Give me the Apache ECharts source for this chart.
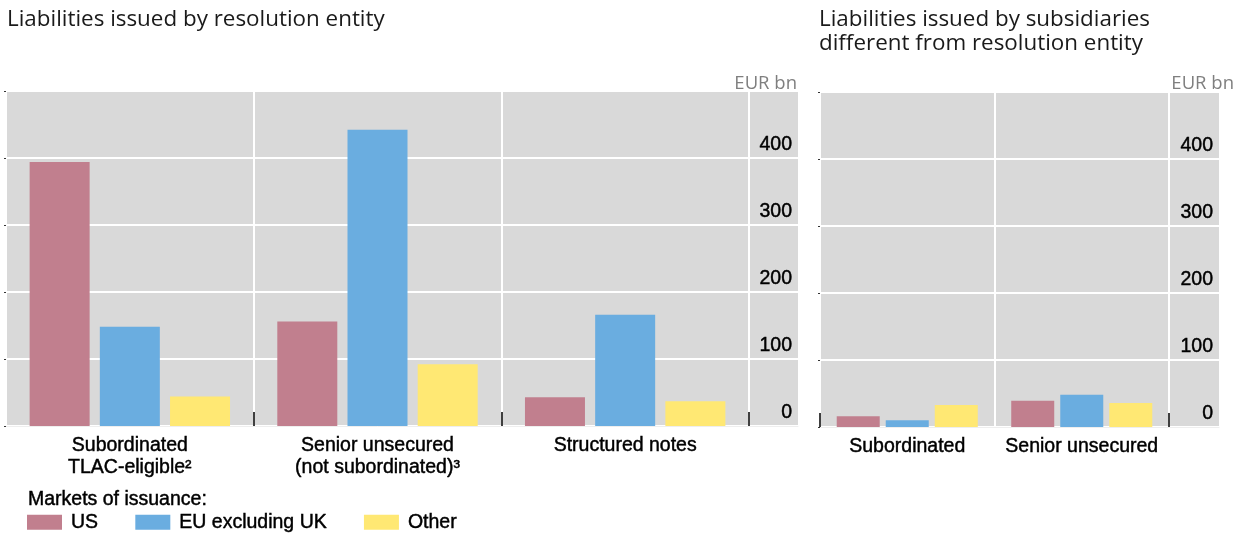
<!DOCTYPE html>
<html>
<head>
<meta charset="utf-8">
<script src="https://cdn.jsdelivr.net/npm/echarts@6/dist/echarts.min.js"></script>
<style>
  html, body { margin: 0; padding: 0; background: #fff; }
  #chart { width: 1247px; height: 533px; }
</style>
</head>
<body>
<div id="chart"></div>
<script>
// left panel: liabilities issued by resolution entity
const leftCategories = ["Subordinated\nTLAC-eligible²", "Senior unsecured\n(not subordinated)³", "Structured notes"];
const leftUS = [394, 156, 43];
const leftEU = [148, 442, 166];
const leftOther = [44, 92, 37];

// right panel: subsidiaries different from resolution entity
const rightCategories = ["Subordinated", "Senior unsecured"];
const rightUS = [16, 39];
const rightEU = [10, 48];
const rightOther = [33, 36];

const yTicks = [0, 100, 200, 300, 400];
const seriesNames = ["US", "EU excluding UK", "Other"];
const colors = ["#c17f8e", "#6aade0", "#ffe873"];

const labelFont = "'Liberation Sans', Arial, sans-serif";
const titleFont = "'Open Sans', 'Noto Sans', sans-serif";
const grey = "#d9d9d9";
// a hairline outline makes the Arial text look as heavy as in the original
const heavy = { textBorderColor: "#000", textBorderWidth: 0.45 };

const chart = echarts.init(document.getElementById("chart"));

const catAxis = function (gridIndex, data) {
  return {
    type: "category",
    gridIndex: gridIndex,
    data: data,
    axisLine: { show: true, lineStyle: { color: "#eeeeee", width: 1 } },
    axisTick: {
      show: true,
      inside: true,
      length: 14,
      interval: (i) => i > 0,
      lineStyle: { color: "#000", width: 1.5 }
    },
    splitLine: { show: true, lineStyle: { color: "#fff", width: 2 } },
    axisLabel: Object.assign({
      color: "#000",
      fontFamily: labelFont,
      fontSize: 19.5,
      lineHeight: 22,
      margin: 9,
      interval: 0
    }, heavy)
  };
};

const labelXAxis = function (gridIndex) {
  return {
    type: "category",
    gridIndex: gridIndex,
    data: [""],
    axisLine: { show: true, lineStyle: { color: "#eeeeee", width: 1 } },
    axisTick: { show: false },
    axisLabel: { show: false },
    splitLine: { show: false }
  };
};

const valueAxis = function (gridIndex, withLabels) {
  return {
    type: "value",
    gridIndex: gridIndex,
    min: 0,
    max: 500,
    interval: 100,
    position: withLabels ? "right" : "left",
    axisLine: { show: false },
    axisTick: withLabels
      ? { show: false }
      : { show: true, length: 2, lineStyle: { color: "#333" } },
    splitLine: { show: true, lineStyle: { color: "#fff", width: 2 } },
    axisLabel: withLabels
      ? Object.assign({
          show: true,
          inside: true,
          margin: 6,
          color: "#000",
          fontFamily: labelFont,
          fontSize: 19.5,
          verticalAlign: "bottom",
          lineHeight: 27,
          formatter: (v) => (yTicks.indexOf(v) >= 0 ? String(v) : "")
        }, heavy)
      : { show: false }
  };
};

const barSeries = function (name, color, data, axisIndex, barWidth, barGap) {
  return {
    name: name,
    type: "bar",
    xAxisIndex: axisIndex,
    yAxisIndex: axisIndex,
    data: data,
    barWidth: barWidth,
    barGap: barGap,
    itemStyle: { color: color },
    silent: true
  };
};

const gridBox = { show: true, backgroundColor: grey, borderWidth: 0, containLabel: false };
const titleStyle = { fontFamily: titleFont, fontWeight: "normal", fontSize: 22.4, lineHeight: 24, color: "#1a1a1a" };
const unitStyle = { fontFamily: titleFont, fontWeight: "normal", fontSize: 18.5, color: "#7f7f7f" };

const option = {
  animation: false,
  title: [
    { text: "Liabilities issued by resolution entity", left: 7, top: 8, padding: 0, textStyle: titleStyle },
    { text: "Liabilities issued by subsidiaries\ndifferent from resolution entity", left: 819, top: 8, padding: 0, textStyle: titleStyle },
    { text: "EUR bn", right: 450, top: 74, padding: 0, textStyle: unitStyle },
    { text: "EUR bn", right: 13, top: 74, padding: 0, textStyle: unitStyle },
    {
      text: "Markets of issuance:",
      left: 28,
      top: 490,
      padding: 0,
      textStyle: Object.assign({ fontFamily: labelFont, fontWeight: "normal", fontSize: 19.5, color: "#000" }, heavy)
    }
  ],
  legend: {
    data: seriesNames,
    left: 27,
    top: 512,
    padding: 0,
    itemWidth: 35,
    itemHeight: 15,
    itemGap: 37,
    icon: "rect",
    selectedMode: false,
    textStyle: Object.assign({ fontFamily: labelFont, fontSize: 19.5, color: "#000", padding: [0, 0, 0, 4] }, heavy)
  },
  grid: [
    Object.assign({ left: 6, width: 743, top: 91, height: 335 }, gridBox),
    Object.assign({ left: 749, width: 49, top: 91, height: 335 }, gridBox),
    Object.assign({ left: 820, width: 349, top: 92, height: 335 }, gridBox),
    Object.assign({ left: 1169, width: 50, top: 92, height: 335 }, gridBox)
  ],
  xAxis: [
    catAxis(0, leftCategories),
    labelXAxis(1),
    catAxis(2, rightCategories),
    labelXAxis(3)
  ],
  yAxis: [
    valueAxis(0, false),
    valueAxis(1, true),
    valueAxis(2, false),
    valueAxis(3, true)
  ],
  series: [
    barSeries(seriesNames[0], colors[0], leftUS, 0, 60, "17%"),
    barSeries(seriesNames[1], colors[1], leftEU, 0, 60, "17%"),
    barSeries(seriesNames[2], colors[2], leftOther, 0, 60, "17%"),
    barSeries(seriesNames[0], colors[0], rightUS, 2, 43, "14%"),
    barSeries(seriesNames[1], colors[1], rightEU, 2, 43, "14%"),
    barSeries(seriesNames[2], colors[2], rightOther, 2, 43, "14%")
  ]
};

chart.setOption(option);
</script>
</body>
</html>
